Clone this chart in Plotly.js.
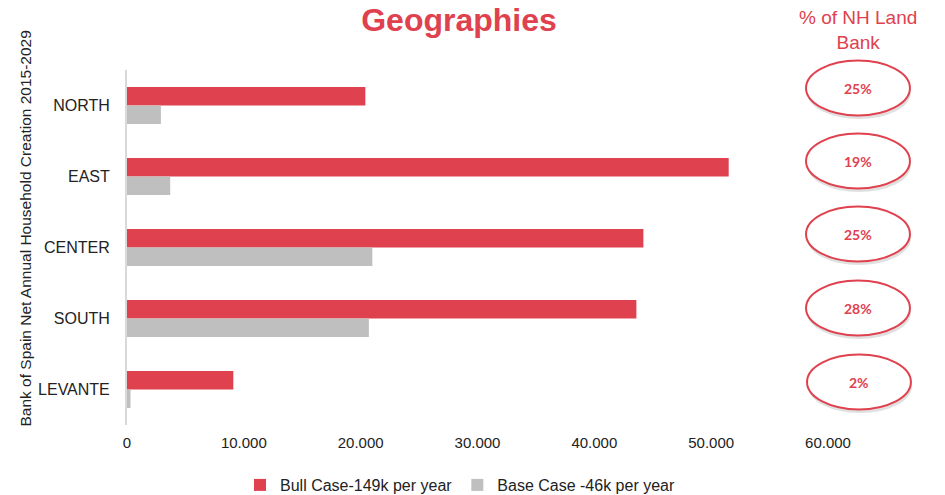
<!DOCTYPE html>
<html>
<head>
<meta charset="utf-8">
<script src="https://cdn.plot.ly/plotly-3.0.1.min.js"></script>
<style>html,body{margin:0;padding:0;background:#fff;}#chart{width:945px;height:495px;}</style>
</head>
<body>
<div id="chart"></div>
<script>
var regions = ["NORTH", "EAST", "CENTER", "SOUTH", "LEVANTE"];
var bullCase = [20400, 51500, 44200, 43600, 9100];
var baseCase = [2900, 3700, 21000, 20700, 300];
var landBankPct = ["25%", "19%", "25%", "28%", "2%"];
var seriesNames = ["Bull Case-149k per year", "Base Case -46k per year"];
var xTickVals = [0, 10000, 20000, 30000, 40000, 50000, 60000];
var xTickText = ["0", "10.000", "20.000", "30.000", "40.000", "50.000", "60.000"];
var yTitle = "Bank of Spain Net Annual Household Creation 2015-2029";

var RED = "#E0414E";
var GRAY = "#BFBFBF";
var FONT = "Liberation Sans, Arial, sans-serif";

var traces = [
  {type: "bar", orientation: "h", name: seriesNames[0], y: regions, x: bullCase,
   marker: {color: RED}, hoverinfo: "x+y"},
  {type: "bar", orientation: "h", name: seriesNames[1], y: regions, x: baseCase,
   marker: {color: GRAY}, hoverinfo: "x+y"}
];

var plotTop = 70, plotBottom = 425, H = 495;
var plotLeft = 126.5, plotRight = 828;
function toPaperY(py) { return (plotBottom - py) / (plotBottom - plotTop); }
function toPaperX(px) { return (px - plotLeft) / (plotRight - plotLeft); }

var ellipseCentersPx = [88, 161, 234, 308, 382];
var shapes = [], annotations = [];
for (var i = 0; i < landBankPct.length; i++) {
  var cy = ellipseCentersPx[i];
  var cx = (i === 4) ? 859 : 858;
  shapes.push({type: "circle", xref: "paper", yref: "paper", layer: "above",
    x0: toPaperX(cx - 51), x1: toPaperX(cx + 53), y0: toPaperY(cy + 31), y1: toPaperY(cy - 22),
    fillcolor: "rgba(0,0,0,0.12)", line: {width: 0}});
  shapes.push({type: "circle", xref: "paper", yref: "paper", layer: "above",
    x0: toPaperX(cx - 52), x1: toPaperX(cx + 52), y0: toPaperY(cy + 27.5), y1: toPaperY(cy - 27.5),
    fillcolor: "#ffffff", line: {color: RED, width: 2}});
  annotations.push({xref: "paper", yref: "paper", x: toPaperX(cx), y: toPaperY(cy),
    text: "<b>" + landBankPct[i] + "</b>", showarrow: false,
    font: {family: "Lato, Open Sans, sans-serif", size: 14, color: RED},
    xanchor: "center", yanchor: "middle"});
}
annotations.push({xref: "paper", yref: "paper", x: toPaperX(858), y: toPaperY(30),
  text: "% of NH Land<br>Bank", showarrow: false, align: "center",
  font: {family: FONT, size: 19, color: RED}, xanchor: "center", yanchor: "middle"});
annotations.push({xref: "paper", yref: "paper", x: toPaperX(25), y: toPaperY(229),
  text: yTitle, textangle: -90, showarrow: false,
  font: {family: FONT, size: 15.5, color: "#222222"}, xanchor: "center", yanchor: "middle"});

var layout = {
  width: 945, height: 495,
  margin: {l: plotLeft, r: 945 - plotRight, t: plotTop, b: H - plotBottom, pad: 0, autoexpand: false},
  paper_bgcolor: "#ffffff", plot_bgcolor: "#ffffff",
  font: {family: FONT, size: 15, color: "#222222"},
  title: {text: "<b>Geographies</b>", font: {family: FONT, size: 32, color: RED},
    x: 459 / 945, xref: "container", xanchor: "center",
    y: 1 - 20 / 495, yref: "container", yanchor: "middle"},
  barmode: "group", bargap: 0.48, bargroupgap: 0,
  xaxis: {range: [0, 60000], tickvals: xTickVals, ticktext: xTickText,
    showgrid: false, zeroline: false, showline: false, ticks: "",
    ticklabelstandoff: 7, tickfont: {size: 15, color: "#222222"}, fixedrange: true},
  yaxis: {autorange: "reversed", showgrid: false, zeroline: false,
    showline: true, linecolor: "#D9D9D9", linewidth: 2, ticks: "",
    ticklabelstandoff: 12, tickfont: {size: 16, color: "#222222"}},
  showlegend: true,
  legend: {orientation: "h", x: 460 / 945, xref: "container", xanchor: "center",
    y: 10 / 495, yref: "container", yanchor: "middle",
    font: {size: 16, color: "#222222"}, traceorder: "normal", itemwidth: 30},
  shapes: shapes,
  annotations: annotations
};

Plotly.newPlot("chart", traces, layout, {displayModeBar: false, staticPlot: true});
</script>
</body>
</html>
